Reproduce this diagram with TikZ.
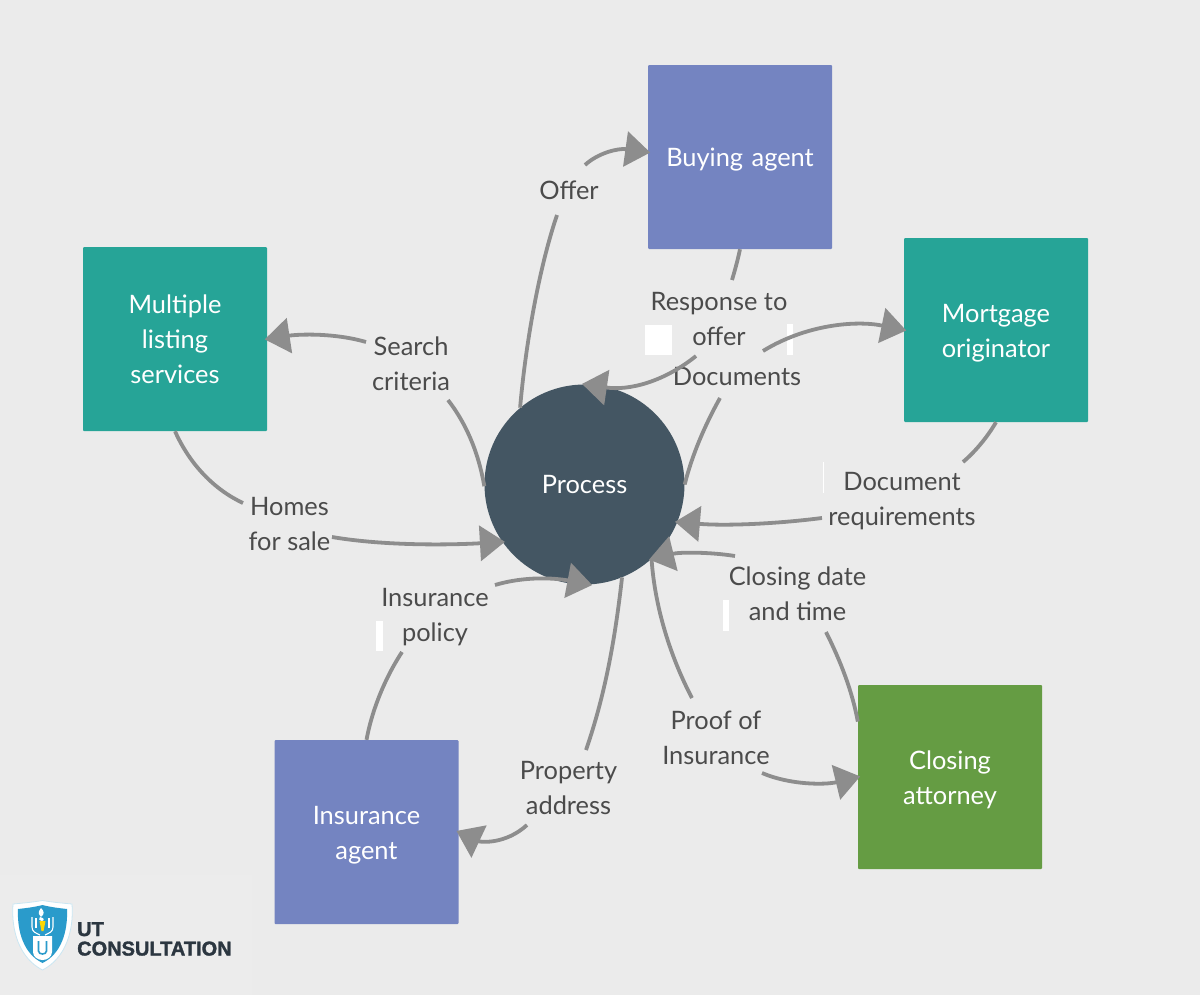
\documentclass[tikz,border=0pt]{standalone}
\usepackage{fontspec}
\setmainfont{Lato}
\newfontfamily\logofont{Liberation Sans}[BoldFeatures={FakeBold=1.6}]
\usetikzlibrary{arrows.meta}
\definecolor{bgc}{HTML}{EBEBEB}
\definecolor{blueb}{HTML}{7484C1}
\definecolor{tealb}{HTML}{26A497}
\definecolor{greenb}{HTML}{659C43}
\definecolor{procc}{HTML}{445663}
\definecolor{linec}{HTML}{8D8D8D}
\definecolor{textc}{HTML}{4B4B4B}
\definecolor{shieldc}{HTML}{2A9BCB}
\definecolor{logot}{HTML}{2B3640}
\newcommand\dn[1]{\raisebox{-3pt}[\height][\depth]{\parbox{160pt}{\centering #1}}}
\tikzset{
  box/.style={rectangle,rounded corners=1pt,minimum size=184pt,inner sep=0pt,text=white,align=center,font=\fontsize{25.4}{35}\selectfont,text width=160pt},
  proc/.style={circle,fill=procc,minimum size=200pt,inner sep=0pt,text=white,font=\fontsize{25.4}{35}\selectfont},
  lab/.style={text=textc,align=center,font=\fontsize{25.4}{35}\selectfont,inner sep=0pt},
  seg/.style={draw=linec,line width=3.8pt},
  arr/.style={seg,shorten >=-2.5pt,-{Triangle[length=25pt,width=35pt,fill=linec]}},
  wbar/.style={fill=white,draw=none},
}
\begin{document}
\begin{tikzpicture}[x=1pt,y=-1pt]
\useasboundingbox (0,0) rectangle (1200,996);
\fill[bgc] (0,0) rectangle (1200,996);
\fill[white,opacity=.08] (0,875) rectangle (252,996);
\fill[white] (0,994.5) rectangle (1200,996);

% white marks
\fill[wbar] (645,325) rectangle (672,355);
\fill[wbar] (787,324) rectangle (793,355);
\fill[wbar] (822.5,462) rectangle (824,493);
\fill[wbar] (723,600) rectangle (729,631);
\fill[wbar] (376,621) rectangle (383,651);

% nodes
\node[box,fill=blueb] (buying) at (740,157) {\dn{Buying agent}};
\node[box,fill=tealb] (mortgage) at (996,330) {\dn{Mortgage\\originator}};
\node[box,fill=tealb] (mls) at (175,339) {Multiple\\listing\\services};
\node[box,fill=blueb] (insagent) at (366.5,832) {\dn{Insurance\\agent}};
\node[box,fill=greenb] (closing) at (950,777) {\dn{Closing\\attorney}};
\node[proc] (process) at (584.5,484.5) {Process};

% labels
\node[lab] (lOffer) at (569,190) {Offer};
\node[lab] (lResp) at (719,319) {Response to\\offer};
\node[lab] (lDocs) at (737,376.5) {Documents};
\node[lab] (lSearch) at (411,364) {Search\\criteria};
\node[lab] (lHomes) at (289.5,524) {Homes\\for sale};
\node[lab] (lDocReq) at (902,501) {Document\\requirements};
\node[lab] (lClose) at (797.5,594) {Closing date\\and time};
\node[lab] (lProof) at (716,737.5) {Proof of\\Insurance};
\node[lab] (lProp) at (568.5,788) {Property\\address};
\node[lab] (lPolicy) at (435,617.5) {Insurance\\policy};

% free ends beside the labels
\coordinate (c1a) at (557,215);
\coordinate (c1b) at (585,165);
\coordinate (c2a) at (732,280);
\coordinate (c2b) at (696,356);
\coordinate (c3a) at (720,398);
\coordinate (c3b) at (763,351);
\coordinate (c4a) at (963,462);
\coordinate (c4b) at (822,518);
\coordinate (c5a) at (826,632);
\coordinate (c5b) at (735,556);
\coordinate (c6a) at (692,698);
\coordinate (c6b) at (762,773);
\coordinate (c7a) at (586,750);
\coordinate (c7b) at (527,825);
\coordinate (c8a) at (402,652);
\coordinate (c8b) at (495,585);
\coordinate (c9a) at (243,503);
\coordinate (c9b) at (332,537);
\coordinate (c10a) at (448,400);
\coordinate (c10b) at (366,342);

% connectors
\draw[seg] (process.130) .. controls (526,340) and (540,265) .. (c1a);
\draw[arr] (c1b) .. controls (598,153) and (618,148) .. (buying.177);
\draw[seg] (buying.south) .. controls (738,259) and (735,270) .. (c2a);
\draw[arr] (c2b) .. controls (665,381) and (630,391) .. (process.90);
\draw[seg] (process.0) .. controls (692,455) and (705,425) .. (c3a);
\draw[arr] (c3b) .. controls (805,325) and (855,320) .. (mortgage.west);
\draw[seg] (mortgage.south) .. controls (988,436) and (976,451) .. (c4a);
\draw[arr] (c4b) .. controls (775,524) and (725,526) .. (process.-22.5);
\draw[seg] (closing.149) .. controls (852,690) and (840,660) .. (c5a);
\draw[arr] (c5b) .. controls (710,552) and (680,552) .. (process.-48);
\draw[seg] (process.-48) .. controls (655,610) and (672,660) .. (c6a);
\draw[arr] (c6b) .. controls (790,785) and (825,785) .. (closing.west);
\draw[seg] (process.-68) .. controls (615,640) and (605,695) .. (c7a);
\draw[arr] (c7b) .. controls (505,845) and (480,842) .. (insagent.east);
\draw[seg] (insagent.north) .. controls (372,710) and (385,678) .. (c8a);
\draw[arr] (c8b) .. controls (525,576) and (555,578) .. (process.-87);
\draw[seg] (mls.south) .. controls (190,465) and (215,490) .. (c9a);
\draw[arr] (c9b) .. controls (385,546) and (450,545) .. (process.215);
\draw[seg] (process.181) .. controls (478,450) and (465,422) .. (c10a);
\draw[arr] (c10b) .. controls (335,333) and (300,334) .. (mls.east);

% logo
\path[fill=white,draw=white!75!shieldc,line width=.8pt] (13,904) .. controls (24,903) and (34,902) .. (42.5,900.5) .. controls (51,902) and (61,903) .. (72,904) .. controls (74,930) and (66,958) .. (42.5,970) .. controls (19,958) and (11,930) .. (13,904) -- cycle;
\fill[shieldc] (18,909) .. controls (27,908) and (35,907) .. (42.5,905) .. controls (50,907) and (58,908) .. (67,909) .. controls (68,932) and (61,954) .. (42.5,963) .. controls (24,954) and (17,932) .. (18,909) -- cycle;
\fill[white] (41,908) .. controls (37,913) and (39,915) .. (41,917) .. controls (45,914) and (44,911) .. (41,908) -- cycle;
\fill[white] (40,917) .. controls (38,919) and (39,920) .. (42,921) .. controls (45,920) and (44,918) .. (40,917) -- cycle;
\fill[yellow!75!orange] (39.5,921) -- (45.5,921) -- (43.5,931) -- (41.5,931) -- cycle;
\draw[white,line width=1.1pt] (32,917) -- (32,927) .. controls (32,932) and (36,933) .. (40,935);
\draw[white,line width=1.1pt] (53,917) -- (53,927) .. controls (53,932) and (49,933) .. (45,935);
\draw[white,line width=1.1pt] (36,918) -- (36,928);
\draw[white,line width=1.1pt] (49,918) -- (49,928);
\fill[white] (33,936) -- (52,936) -- (52,952) .. controls (52,957) and (47,960) .. (42.5,960) .. controls (38,960) and (33,957) .. (33,952) -- cycle;
\draw[shieldc,line width=1.6pt] (38.5,941) -- (38.5,951) .. controls (38.5,955) and (46.5,955) .. (46.5,951) -- (46.5,941);
\node[anchor=base west,inner sep=0pt,text=logot,font=\logofont\bfseries\fontsize{20}{20}\selectfont] (logoA) at (77,936) {UT};
\node[anchor=base west,inner sep=0pt,text=logot,font=\logofont\bfseries\fontsize{20}{20}\selectfont] (logoB) at (77,955.5) {CONSULTATION};
\end{tikzpicture}
\end{document}
